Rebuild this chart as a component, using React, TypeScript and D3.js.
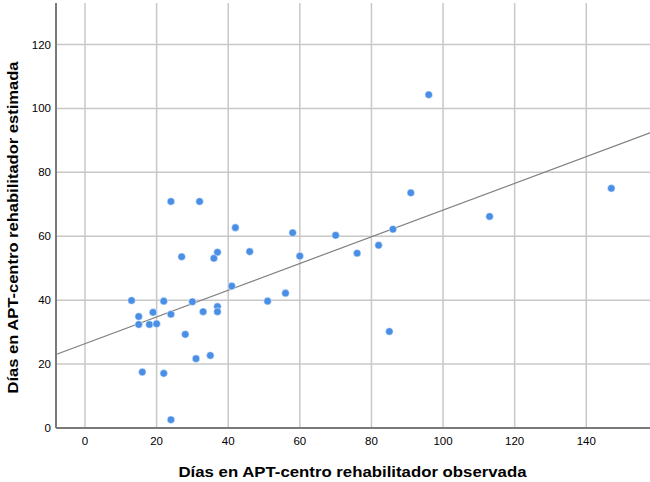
import { useEffect, useRef } from "react";
import * as d3 from "d3";

const observed = [
  96, 147, 91, 113, 24, 32, 42, 58, 70, 86, 82, 76, 60, 46, 37, 36, 27, 41, 56, 51,
  13, 22, 30, 37, 37, 33, 15, 19, 24, 15, 18, 20, 28, 85, 31, 35, 16, 22, 24,
];
const estimated = [
  104.3, 75.0, 73.6, 66.2, 70.9, 70.9, 62.7, 61.1, 60.3, 62.2, 57.2, 54.7, 53.8, 55.2,
  55.0, 53.1, 53.6, 44.4, 42.2, 39.7, 39.9, 39.7, 39.5, 38.0, 36.4, 36.4, 34.9, 36.2,
  35.6, 32.4, 32.4, 32.6, 29.3, 30.2, 21.7, 22.7, 17.5, 17.1, 2.6,
];
const xTicks = [0, 20, 40, 60, 80, 100, 120, 140];
const yTicks = [0, 20, 40, 60, 80, 100, 120];
// fit line: estimated = a + b * observed
const fitIntercept = 26.4;
const fitSlope = 0.418;

const W = 650;
const H = 482;
const M = { top: 3, right: 0, bottom: 54, left: 56 };
const FONT = "'Liberation Sans', Arial, sans-serif";

export default function App() {
  const svgRef = useRef<SVGSVGElement | null>(null);

  useEffect(() => {
    const svg = svgRef.current;
    if (!svg) return;
    svg.innerHTML = "";

    const innerW = W - M.left - M.right;
    const innerH = H - M.top - M.bottom;

    const x = d3.scaleLinear().domain([-8.1, 157.8]).range([0, innerW]);
    const y = d3.scaleLinear().domain([0, 133]).range([innerH, 0]);

    const root = d3
      .select(svg)
      .append("g")
      .attr("transform", `translate(${M.left},${M.top})`);

    // gridlines
    root
      .append("g")
      .selectAll("line")
      .data(xTicks)
      .join("line")
      .attr("x1", (d) => x(d))
      .attr("x2", (d) => x(d))
      .attr("y1", 0)
      .attr("y2", innerH)
      .attr("stroke", "#c8c8c8")
      .attr("stroke-width", 1.5);

    root
      .append("g")
      .selectAll("line")
      .data(yTicks.filter((d) => d > 0))
      .join("line")
      .attr("x1", 0)
      .attr("x2", innerW)
      .attr("y1", (d) => y(d))
      .attr("y2", (d) => y(d))
      .attr("stroke", "#c8c8c8")
      .attr("stroke-width", 1.5);

    // tick labels
    root
      .append("g")
      .selectAll("text")
      .data(xTicks)
      .join("text")
      .attr("x", (d) => x(d))
      .attr("y", innerH + 17)
      .attr("text-anchor", "middle")
      .attr("font-family", FONT)
      .attr("font-size", 11.5)
      .attr("fill", "#000")
      .text((d) => d);

    root
      .append("g")
      .selectAll("text")
      .data(yTicks)
      .join("text")
      .attr("x", -5)
      .attr("y", (d) => y(d) + 4)
      .attr("text-anchor", "end")
      .attr("font-family", FONT)
      .attr("font-size", 11.5)
      .attr("fill", "#000")
      .text((d) => d);

    // axes
    root
      .append("line")
      .attr("x1", 0)
      .attr("x2", innerW)
      .attr("y1", innerH)
      .attr("y2", innerH)
      .attr("stroke", "#7a7a7a")
      .attr("stroke-width", 2);
    root
      .append("line")
      .attr("x1", 0)
      .attr("x2", 0)
      .attr("y1", 0)
      .attr("y2", innerH)
      .attr("stroke", "#7a7a7a")
      .attr("stroke-width", 2);

    // fit line
    const [x0, x1] = x.domain();
    root
      .append("line")
      .attr("x1", x(x0))
      .attr("y1", y(fitIntercept + fitSlope * x0))
      .attr("x2", x(x1))
      .attr("y2", y(fitIntercept + fitSlope * x1))
      .attr("stroke", "#7f7f7f")
      .attr("stroke-width", 1.2);

    // points
    root
      .append("g")
      .selectAll("circle")
      .data(observed.map((o, i) => [o, estimated[i]]))
      .join("circle")
      .attr("cx", (d) => x(d[0]))
      .attr("cy", (d) => y(d[1]))
      .attr("r", 3.8)
      .attr("fill", "#4a8fe6")
      .attr("stroke", "#ffffff")
      .attr("stroke-width", 0.5);

    // axis titles
    d3.select(svg)
      .append("text")
      .attr("x", 352.5)
      .attr("y", 476.5)
      .attr("text-anchor", "middle")
      .attr("font-family", FONT)
      .attr("font-weight", "bold")
      .attr("font-size", 15)
      .attr("textLength", 348)
      .attr("lengthAdjust", "spacingAndGlyphs")
      .attr("fill", "#000")
      .text("Días en APT-centro rehabilitador observada");

    d3.select(svg)
      .append("text")
      .attr("transform", `translate(18,227.5) rotate(-90)`)
      .attr("text-anchor", "middle")
      .attr("font-family", FONT)
      .attr("font-weight", "bold")
      .attr("font-size", 15)
      .attr("textLength", 332)
      .attr("lengthAdjust", "spacingAndGlyphs")
      .attr("fill", "#000")
      .text("Días en APT-centro rehabilitador estimada");
  }, []);

  return (
    <svg
      ref={svgRef}
      width={W}
      height={H}
      style={{ position: "absolute", left: 0, top: 0, background: "#fff" }}
    />
  );
}
